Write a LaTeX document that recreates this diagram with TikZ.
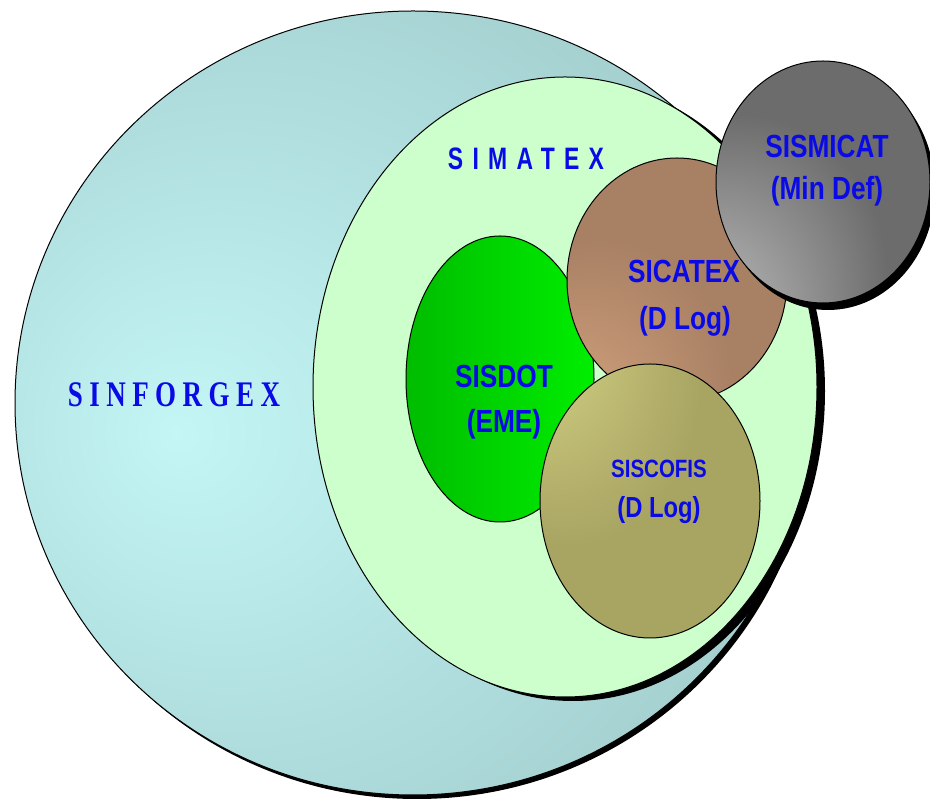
\documentclass[tikz,border=0pt]{standalone}
\usepackage{fontspec}
\setmainfont{Liberation Sans}
\newfontfamily\narrowsans[FakeStretch=0.82]{Liberation Sans}
\newfontfamily\widesans[FakeStretch=0.74,LetterSpace=30]{Liberation Sans}
\newfontfamily\wideserif[FakeStretch=0.75,LetterSpace=18]{Liberation Serif}
\usepackage{tikz}
\usetikzlibrary{shapes.geometric,shadows}
\usepackage{xcolor}
\definecolor{SetBlue}{HTML}{0A0AE6}
\definecolor{ForgexHi}{HTML}{C4F6F6}
\definecolor{ForgexLo}{HTML}{A2CDCD}
\definecolor{ForgexEdge}{HTML}{96C2C2}
\definecolor{MatexFill}{HTML}{CCFFCC}
\definecolor{DotDark}{HTML}{00BC00}
\definecolor{DotLight}{HTML}{00EE00}
\definecolor{CatexHi}{HTML}{DCAA82}
\definecolor{CatexLo}{HTML}{A88064}
\definecolor{CofisHi}{HTML}{DCDA8C}
\definecolor{CofisLo}{HTML}{A8A462}
\definecolor{MicatHi}{HTML}{D2D2D2}
\definecolor{MicatLo}{HTML}{6C6C6C}

\pgfdeclareradialshading{forgexglow}{\pgfpoint{-15bp}{-2bp}}{color(0bp)=(ForgexHi); color(34bp)=(ForgexLo); color(50bp)=(ForgexEdge); color(72bp)=(ForgexEdge)}
\pgfdeclareradialshading{catexglow}{\pgfpoint{-30bp}{-37bp}}{color(0bp)=(CatexHi); color(30bp)=(CatexLo); color(72bp)=(CatexLo)}
\pgfdeclareradialshading{cofisglow}{\pgfpoint{-32bp}{37bp}}{color(0bp)=(CofisHi); color(30bp)=(CofisLo); color(72bp)=(CofisLo)}
\pgfdeclareradialshading{micatglow}{\pgfpoint{-36bp}{-38bp}}{color(0bp)=(MicatHi); color(34bp)=(MicatLo); color(72bp)=(MicatLo)}

\tikzset{
  setring/.style={ellipse, draw=black, line width=1pt, inner sep=0pt},
  heavyshadow/.style={drop shadow={shadow xshift=#1, shadow yshift=-4pt, fill=black, opacity=1}},
  setname/.style={anchor=base, text=SetBlue, font=\narrowsans\bfseries\fontsize{32}{38}\selectfont},
}

\begin{document}
\begin{tikzpicture}[x=1pt,y=1pt]
  \useasboundingbox (0,0) rectangle (930,800);

  % set rings, outer to inner
  \node[setring, heavyshadow=4pt, shading=forgexglow, minimum width=796, minimum height=784] (sinforgex) at (413,397) {};
  \node[setring, heavyshadow=8pt, fill=MatexFill, minimum width=504, minimum height=620] (simatex) at (565,413) {};
  \node[setring, left color=DotDark, right color=DotLight, minimum width=188, minimum height=286] (sisdot) at (500,421) {};
  \node[setring, shading=catexglow, minimum width=220, minimum height=244] (sicatex) at (677,520) {};
  \node[setring, shading=micatglow, minimum width=214, minimum height=242,
        drop shadow={shadow xshift=5pt, shadow yshift=-7pt, fill=black, opacity=1}] (sismicat) at (823,618) {};
  \node[setring, shading=cofisglow, minimum width=220, minimum height=274] (siscofis) at (650,299) {};

  % labels
  \node[setname, font=\wideserif\bfseries\fontsize{36}{40}\selectfont] (sinforgexname) at (174,393) {SINFORGEX};
  \node[setname, font=\widesans\bfseries\fontsize{31}{36}\selectfont] (simatexname) at (526,630) {SIMATEX};
  \node[setname] (sisdotname) at (504,412) {SISDOT};
  \node[setname] (sisdotunit) at (504,367) {(EME)};
  \node[setname] (sicatexname) at (684,517) {SICATEX};
  \node[setname] (sicatexunit) at (685,470) {(D Log)};
  \node[setname, font=\narrowsans\bfseries\fontsize{25}{30}\selectfont] (siscofisname) at (659,322) {SISCOFIS};
  \node[setname, font=\narrowsans\bfseries\fontsize{29}{34}\selectfont] (siscofisunit) at (659,282) {(D Log)};
  \node[setname] (sismicatname) at (827,642) {SISMICAT};
  \node[setname] (sismicatunit) at (827,600) {(Min Def)};
\end{tikzpicture}
\end{document}
